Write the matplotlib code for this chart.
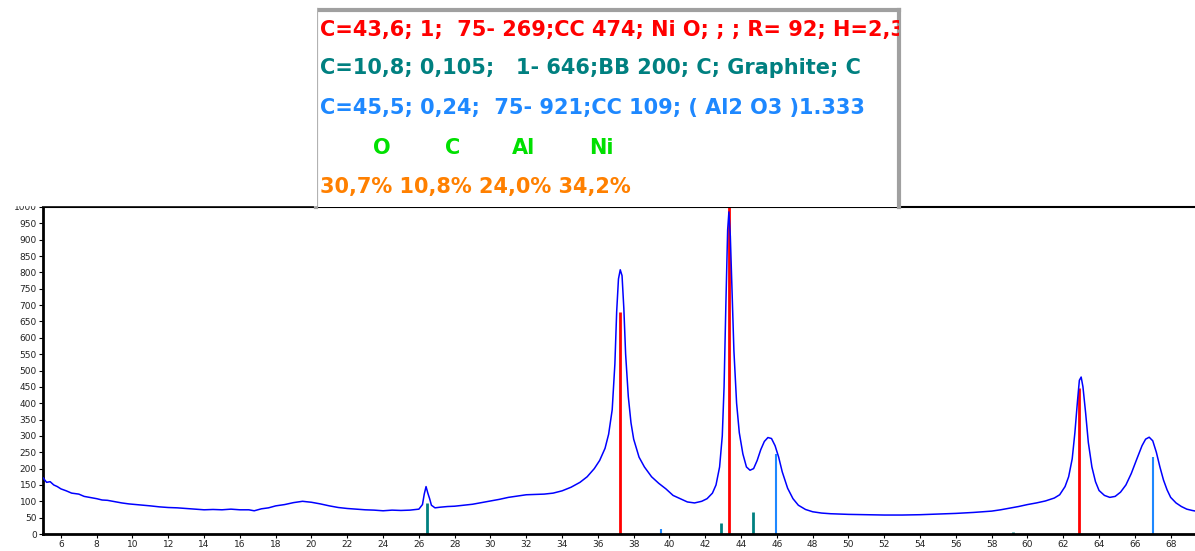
import numpy as np
import matplotlib.pyplot as plt
from matplotlib.patches import Rectangle

two_theta = [5.0, 5.2, 5.4, 5.6, 5.8, 6.0, 6.3, 6.6, 7.0, 7.3, 7.6, 8.0, 8.3, 8.6, 9.0,
             9.4, 9.8, 10.2, 10.6, 11.0, 11.5, 12.0, 12.5, 13.0, 13.5, 14.0, 14.5, 15.0,
             15.5, 16.0, 16.5, 16.8, 17.2, 17.6, 18.0, 18.5, 19.0, 19.5, 20.0, 20.5, 21.0,
             21.5, 22.0, 22.5, 23.0, 23.5, 24.0, 24.5, 25.0, 25.5, 26.0, 26.2, 26.3, 26.4,
             26.5, 26.6, 26.7, 26.9, 27.2, 27.6, 28.0, 28.5, 29.0, 29.5, 30.0, 30.5, 31.0,
             31.5, 32.0, 32.5, 33.0, 33.5, 34.0, 34.5, 35.0, 35.4, 35.8, 36.1, 36.4, 36.6,
             36.8, 36.95, 37.05, 37.15, 37.25, 37.35, 37.45, 37.55, 37.7, 37.85, 38.0, 38.3,
             38.6, 39.0, 39.4, 39.8, 40.2, 40.6, 41.0, 41.4, 41.8, 42.1, 42.4, 42.6, 42.8,
             42.95, 43.05, 43.15, 43.25, 43.32, 43.4, 43.5, 43.6, 43.75, 43.9, 44.1, 44.3,
             44.5, 44.7, 44.9, 45.1, 45.3, 45.5, 45.7, 45.9, 46.1, 46.3, 46.6, 46.9, 47.2,
             47.6, 48.0, 48.5, 49.0, 50.0, 51.0, 52.0, 53.0, 54.0, 55.0, 56.0, 57.0, 58.0,
             58.5, 59.0, 59.5, 60.0, 60.5, 61.0, 61.5, 61.8, 62.1, 62.3, 62.5, 62.65, 62.8,
             62.9, 63.0, 63.1, 63.25, 63.4, 63.6, 63.8, 64.0, 64.3, 64.6, 64.9, 65.2, 65.5,
             65.8, 66.1, 66.4, 66.6, 66.8, 67.0, 67.2, 67.4, 67.6, 67.8, 68.0, 68.3, 68.6,
             68.9, 69.2, 69.4]
counts = [172, 158, 160, 150, 145, 138, 132, 125, 122, 115, 112, 108, 104, 103, 99,
          95, 92, 90, 88, 86, 83, 81, 80, 78, 76, 74, 75, 74,
          76, 74, 74, 71, 77, 80, 86, 90, 96, 100, 97, 92, 86,
          81, 78, 76, 74, 73, 71, 73, 72, 73, 76, 90, 122, 145,
          125, 108, 88, 80, 82, 84, 85, 88, 91, 96, 101, 106, 112,
          116, 120, 121, 122, 125, 132, 143, 158, 175, 200, 225, 262, 305,
          380, 520, 680, 780, 808, 790, 690, 550, 420, 340, 290, 235,
          205, 175, 155, 138, 118, 108, 98, 95, 100, 108, 125, 150, 205,
          300, 450, 700, 930, 985, 910, 740, 560, 400, 310, 245, 205,
          195, 200, 225, 258, 283, 295, 292, 270, 235, 190, 140, 108, 88,
          75, 68, 64, 62, 60, 59, 58, 58, 59, 61, 63, 66, 70,
          74, 79, 84, 90, 95, 101, 110, 120, 145, 175, 230, 310, 410,
          470, 480, 450, 370, 280, 205, 160, 133, 118, 112, 115, 128, 150,
          185, 228, 270, 290, 296, 285, 250, 205, 165, 135, 112, 95, 84,
          76, 72, 70]

# reference stick patterns (position, height)
nio_pos = [37.25, 43.3, 62.88]
nio_h = [680, 1000, 445]
graphite_pos = [26.43, 42.86, 44.65, 59.2]
graphite_h = [95, 35, 66, 5]
al2o3_pos = [39.53, 45.95, 67.03]
al2o3_h = [15, 245, 236]

legend_lines = ["C=43,6; 1;  75- 269;CC 474; Ni O; ; ; R= 92; H=2,3",
                "C=10,8; 0,105;   1- 646;BB 200; C; Graphite; C",
                "C=45,5; 0,24;  75- 921;CC 109; ( Al2 O3 )1.333",
                "",
                "30,7% 10,8% 24,0% 34,2%"]
legend_colors = ["#ff0000", "#008080", "#1e88ff", "#00e000", "#ff8000"]
elements = ["O", "C", "Al", "Ni"]

W, H = 1195, 551
fig = plt.figure(figsize=(W / 100, H / 100), dpi=100)
fig.patch.set_facecolor("white")

# main pattern axes
ax = fig.add_axes([43 / W, (H - 534) / H, 1 - 43 / W, 327 / H])
ax.plot(two_theta, counts, color="#0000ff", lw=1.1, zorder=3)
ax.vlines(nio_pos, 0, nio_h, color="#ff0000", lw=2, zorder=2)
ax.vlines(graphite_pos, 0, graphite_h, color="#008080", lw=2, zorder=2)
ax.vlines(al2o3_pos, 0, al2o3_h, color="#1e88ff", lw=1.5, zorder=2)

ax.set_xlim(5, 69.36)
ax.set_ylim(0, 1000)
ax.set_xticks(range(6, 69, 2))
ax.set_yticks(range(0, 1001, 50))
ax.tick_params(labelsize=6.5, labelcolor="#222222", length=3, width=0.8, pad=1.5)
for s in ["left", "bottom"]:
    ax.spines[s].set_linewidth(2)
ax.spines["top"].set_linewidth(1.5)
ax.spines["right"].set_visible(False)

# the screenshot cuts off the top of the "1000" label
fig.add_artist(Rectangle((0, (H - 205) / H), 316 / W, 205 / H,
                         transform=fig.transFigure, color="white", zorder=5))

# phase legend panel
lg = fig.add_axes([316 / W, (H - 207) / H, 583 / W, 197 / H])
lg.set_xlim(0, 583)
lg.set_ylim(197, 0)
lg.set_xticks([])
lg.set_yticks([])
for s in ["left", "top", "right"]:
    lg.spines[s].set_color("#a0a0a0")
    lg.spines[s].set_linewidth(3)
lg.spines["bottom"].set_visible(False)
ys = [20, 58, 98, 138, 177]
for txt, c, y in zip(legend_lines, legend_colors, ys):
    lg.text(4, y, txt, color=c, fontsize=15, fontweight="bold",
            va="center", ha="left", clip_on=True)
for el, x in zip(elements, [66, 137, 208, 285]):
    lg.text(x, ys[3], el, color=legend_colors[3], fontsize=15, fontweight="bold",
            va="center", ha="center")

fig.savefig("out.png", dpi=100)
